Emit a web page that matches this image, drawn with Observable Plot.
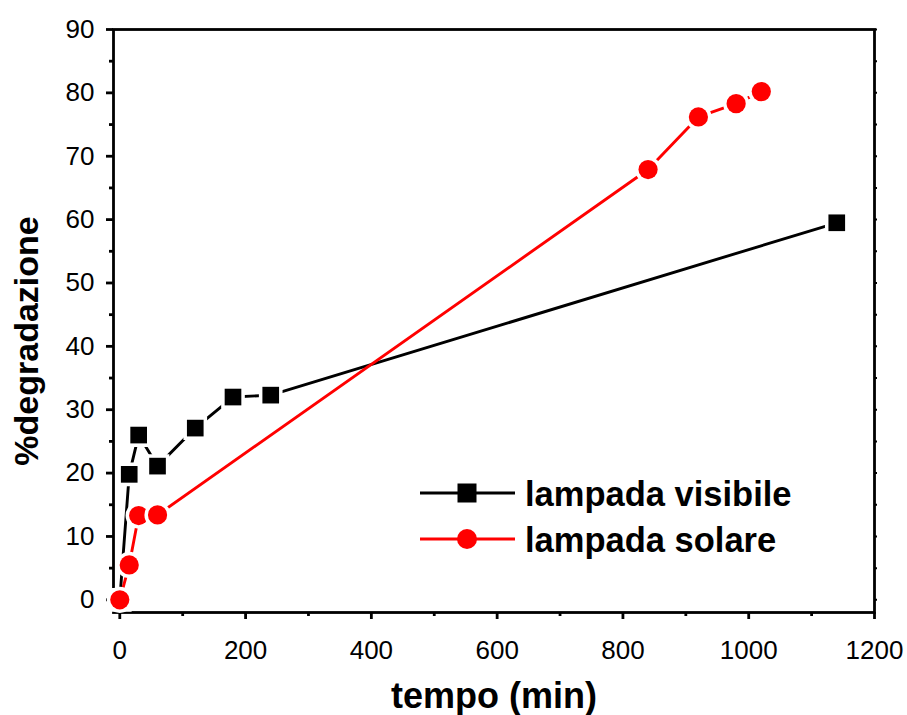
<!DOCTYPE html>
<html>
<head>
<meta charset="utf-8">
<script src="https://cdn.jsdelivr.net/npm/d3@7"></script>
<script src="https://cdn.jsdelivr.net/npm/@observablehq/plot@0.6"></script>
<style>
  html, body { margin: 0; padding: 0; background: #fff; }
  #wrap { position: relative; width: 907px; height: 715px; overflow: hidden; }
  #legend { position: absolute; left: 0; top: 0; }
</style>
</head>
<body>
<div id="wrap"></div>
<script>
// Data
const visTime = [0, 15, 30, 60, 120, 180, 240, 1140];
const visDeg  = [0, 19.8, 26.0, 21.1, 27.1, 32.0, 32.3, 59.5];
const solTime = [0, 15, 30, 60, 840, 920, 980, 1020];
const solDeg  = [0, 5.5, 13.3, 13.4, 67.9, 76.2, 78.3, 80.2];
const xTicks = [0, 200, 400, 600, 800, 1000, 1200];
const xMinor = [100, 300, 500, 700, 900, 1100];
const yTicks = [0, 10, 20, 30, 40, 50, 60, 70, 80, 90];
const yMinor = [5, 15, 25, 35, 45, 55, 65, 75, 85];
const seriesNames = ["lampada visibile", "lampada solare"];
const xLabel = "tempo (min)";
const yLabel = "%degradazione";

const vis = visTime.map((t, i) => ({t, d: visDeg[i]}));
const sol = solTime.map((t, i) => ({t, d: solDeg[i]}));

const font = "'Liberation Sans', Arial, sans-serif";

const chart = Plot.plot({
  width: 907,
  height: 715,
  marginLeft: 113,
  marginRight: 33,
  marginTop: 29,
  marginBottom: 103,
  style: {fontFamily: font, fontSize: "26px", color: "#000", background: "#fff"},
  x: {domain: [-10, 1200]},
  y: {domain: [-2, 90]},
  marks: [
    Plot.axisX({ticks: xTicks, tickSize: 7, tickPadding: 21, strokeWidth: 2.8, label: null, fontSize: 26, tickFormat: d => String(d)}),
    Plot.axisX({ticks: xMinor, tickSize: 4, strokeWidth: 2.8, text: null, label: null}),
    Plot.axisY({ticks: yTicks, tickSize: 7, tickPadding: 12, strokeWidth: 2.8, label: null, fontSize: 26}),
    Plot.axisY({ticks: yMinor, tickSize: 4, strokeWidth: 2.8, text: null, label: null}),
    Plot.axisY({anchor: "right", ticks: yTicks.concat(yMinor), tickSize: 2, strokeWidth: 2, text: null, label: null}),
    Plot.frame({stroke: "#000", strokeWidth: 2.8}),
    Plot.line(vis, {x: "t", y: "d", stroke: "#000", strokeWidth: 2.9}),
    Plot.dot(vis, {x: "t", y: "d", symbol: "square", r: 9.4, fill: "#000", stroke: "#fff", strokeWidth: 7, paintOrder: "stroke"}),
    Plot.line(sol, {x: "t", y: "d", stroke: "#ff0000", strokeWidth: 2.9}),
    Plot.dot(sol, {x: "t", y: "d", symbol: "circle", r: 9.6, fill: "#ff0000", stroke: "#fff", strokeWidth: 7, paintOrder: "stroke"}),
    Plot.text([xLabel], {frameAnchor: "bottom", dy: 95, fontSize: 36, fontWeight: "bold", textAnchor: "middle"}),
    Plot.text([yLabel], {frameAnchor: "left", rotate: -90, dx: -86, dy: 20, fontSize: 34, fontWeight: "bold", textAnchor: "middle"})
  ]
});

const wrap = document.getElementById("wrap");
wrap.appendChild(chart);

// Legend overlay
const ns = "http://www.w3.org/2000/svg";
const lg = document.createElementNS(ns, "svg");
lg.setAttribute("id", "legend");
lg.setAttribute("width", 907);
lg.setAttribute("height", 715);
const items = [
  {name: seriesNames[0], color: "#000", sym: "square", y: 493},
  {name: seriesNames[1], color: "#ff0000", sym: "circle", y: 539}
];
for (const it of items) {
  const l = document.createElementNS(ns, "line");
  l.setAttribute("x1", 420); l.setAttribute("x2", 515);
  l.setAttribute("y1", it.y); l.setAttribute("y2", it.y);
  l.setAttribute("stroke", it.color); l.setAttribute("stroke-width", 2.8);
  lg.appendChild(l);
  if (it.sym === "square") {
    const r = document.createElementNS(ns, "rect");
    r.setAttribute("x", 467 - 9.5); r.setAttribute("y", it.y - 9.5);
    r.setAttribute("width", 19); r.setAttribute("height", 19);
    r.setAttribute("fill", it.color);
    lg.appendChild(r);
  } else {
    const c = document.createElementNS(ns, "circle");
    c.setAttribute("cx", 467); c.setAttribute("cy", it.y); c.setAttribute("r", 10);
    c.setAttribute("fill", it.color);
    lg.appendChild(c);
  }
  const t = document.createElementNS(ns, "text");
  t.setAttribute("x", 525); t.setAttribute("y", it.y + 13);
  t.setAttribute("font-family", font);
  t.setAttribute("font-size", 34.5);
  t.setAttribute("font-weight", "bold");
  t.textContent = it.name;
  lg.appendChild(t);
}
wrap.appendChild(lg);
</script>
</body>
</html>
